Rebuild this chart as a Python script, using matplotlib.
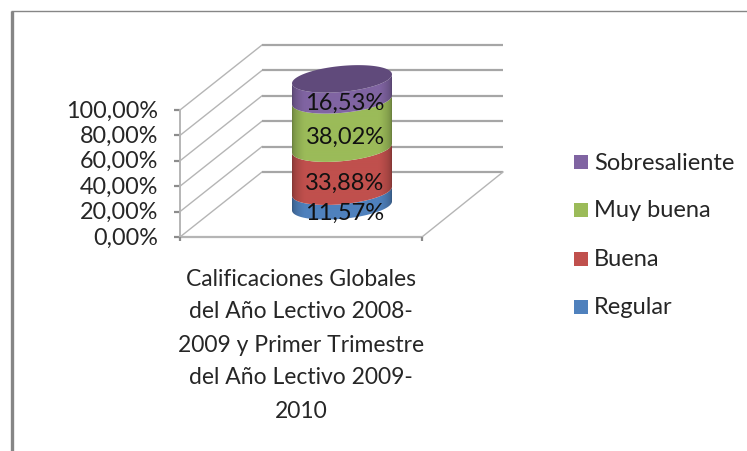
import numpy as np
import matplotlib
matplotlib.use("Agg")
import matplotlib.pyplot as plt
from matplotlib.patches import Polygon, Rectangle
from matplotlib.colors import to_rgb

categories = ["Regular", "Buena", "Muy buena", "Sobresaliente"]
values = [11.57, 33.88, 38.02, 16.53]
colors = ["#4f81bd", "#c0504d", "#9bbb59", "#8064a2"]
ticks = [0, 20, 40, 60, 80, 100]
category_label = ["Calificaciones Globales", "del Año Lectivo 2008-", "2009 y Primer Trimestre",
                  "del Año Lectivo 2009-", "2010"]

plt.rcParams["font.family"] = ["Lato", "DejaVu Sans"]
W, H = 747, 451
fig = plt.figure(figsize=(W/100, H/100), dpi=100, facecolor="white")
ax = fig.add_axes([0, 0, 1, 1])
ax.axis("off")

PX0, S = 237.0, 1.27          # pixel row of 0 %, pixels per 1 %
def pct(py): return (PX0 - py) / S
GRID = "#a6a6a6"
TXT = "#262626"

# frame
ax.plot([11, W], [pct(11)]*2, color="#868686", lw=1.0, solid_capstyle="butt")
ax.plot([11.5, 11.5], [pct(11), pct(H)], color="#868686", lw=2.4, solid_capstyle="butt")

# 3-D box
dx, dy = 82, 65 / S
x0, x1 = 180, 422
for t in ticks:
    ax.plot([x0, x0+dx], [t, t+dy], color="#b5b5b5", lw=1.0)
    ax.plot([x0+dx, x0+dx+241], [t+dy, t+dy], color=GRID, lw=1.6, solid_capstyle="butt")
    ax.plot([x0-6, x0], [t, t], color="#8c8c8c", lw=1.6, solid_capstyle="butt")
    ax.text(158, t - 0.8, f"{t:.2f}%".replace(".", ","), ha="right", va="center", fontsize=16.8, color=TXT)
ax.plot([x0, x0], [0, 100], color="#b5b5b5", lw=1.4)
ax.plot([x0, x1], [0, 0], color="#b5b5b5", lw=1.6)
ax.plot([x1, x1+81], [0, dy], color="#b5b5b5", lw=1.0)
for x in (x0, x1):
    ax.plot([x, x], [0, -3.5], color="#8c8c8c", lw=1.6, solid_capstyle="butt")

# cylinder
cx, a, b, tilt, base = 342, 50, 13 / S, 4.5 / S, 24.5
t_front = np.linspace(np.pi, 2*np.pi, 60)
t_all = np.linspace(0, 2*np.pi, 120)
def ell(level, t):
    return cx + a*np.cos(t), level + tilt*np.cos(t) + b*np.sin(t)
u = np.linspace(-1, 1, 200)
shade = 0.66 + 0.34*np.clip(1.5*np.sqrt(1 - u**2), 0, 1)
bottom = base
for v, c in zip(values, colors):
    top = bottom + v
    xb, yb = ell(bottom, t_front)
    xt, yt = ell(top, t_front)
    poly = np.column_stack([np.r_[xb, xt[::-1]], np.r_[yb, yt[::-1]]])
    patch = Polygon(poly, closed=True, fc="none", ec="none")
    ax.add_patch(patch)
    rgb = np.array(to_rgb(c))
    img = (shade[:, None]*rgb)[None, :, :]
    im = ax.imshow(img, extent=[cx-a, cx+a, bottom-20, top+20], aspect="auto", zorder=3, interpolation="bilinear")
    im.set_clip_path(patch)
    bottom = top
xe, ye = ell(bottom, t_all)
ax.add_patch(Polygon(np.column_stack([xe, ye]), closed=True, fc="#604a7b", ec="none", zorder=4))

# data labels
label_y = [213, 183, 137, 103]
for v, py in zip(values, label_y):
    ax.text(345, pct(py), f"{v:.2f}%".replace(".", ","), ha="center", va="center",
            fontsize=17, color="#111111", zorder=5)

# category label
for i, line in enumerate(category_label):
    ax.text(301, pct(279 + 33*i), line, ha="center", va="center", fontsize=16.5, color=TXT)

# legend
leg_y = [307, 259, 210, 162]
for name, c, py in zip(categories, colors, leg_y):
    ax.add_patch(Rectangle((574, pct(py+7)), 14, 14/S, fc=c, ec="none"))
    ax.text(594, pct(py + 1), name, ha="left", va="center", fontsize=17, color=TXT)

ax.set_xlim(0, W)
ax.set_ylim(pct(H), pct(0))
fig.savefig("out.png", dpi=100)
